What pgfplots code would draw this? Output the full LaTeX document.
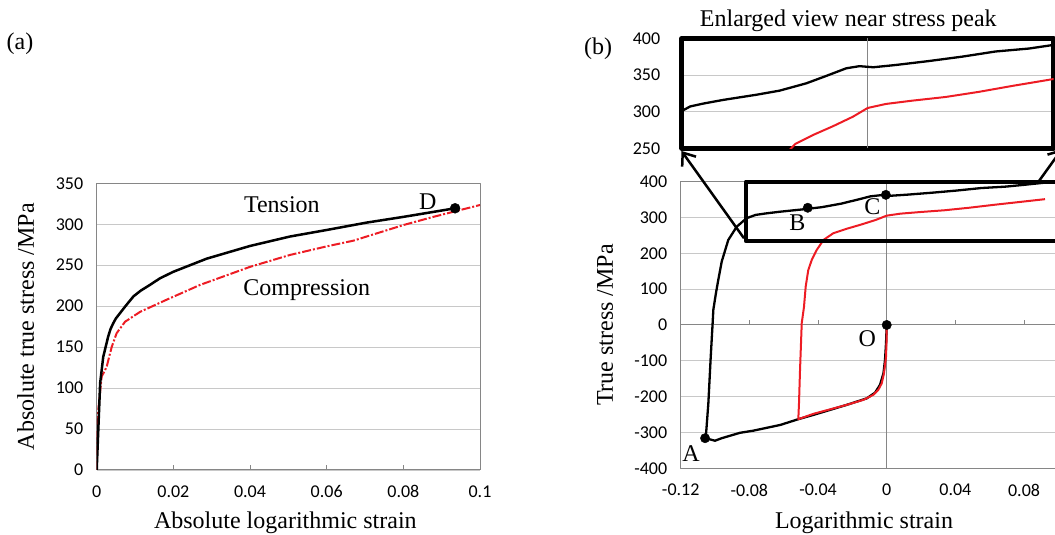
\documentclass[border=0pt]{standalone}
\usepackage{fontspec}
\setmainfont{Liberation Serif}
\newfontfamily\carlito{Carlito}
\usepackage{pgfplots}
\usepackage{pgfplotstable}
\pgfplotsset{compat=1.18}
\usetikzlibrary{arrows.meta}

\definecolor{gridgray}{RGB}{200,200,200}
\definecolor{axgray}{RGB}{134,134,134}
\definecolor{curvered}{RGB}{237,28,36}

% (a) absolute curves
\pgfplotstableread{
x y
0 0
0.0009 106
0.0017 138
0.003 163
0.0036 172
0.0043 179
0.005 185
0.006 191
0.0075 200
0.0096 212
0.0115 219
0.0139 226
0.0165 234
0.02 242
0.0287 258
0.04 273.5
0.0504 285
0.06 293
0.0704 302
0.08 309
0.0935 319.5
}\tension
\pgfplotstableread{
x y
0 0
0.0004 73
0.0013 114
0.0026 126
0.0039 150
0.0052 167
0.0074 181
0.0113 193
0.0183 208
0.027 226
0.04 248
0.0504 262.5
0.06 273
0.067 280
0.0704 285
0.08 299
0.0878 309
0.1 323.5
}\compression

% (b) cyclic curves
\pgfplotstableread{
x y
0 0
-0.0004 -51
-0.001 -98
-0.0019 -135
-0.0039 -167
-0.0068 -189
-0.0117 -205
-0.0233 -223
-0.0427 -251
-0.0515 -263
-0.062 -279
-0.0777 -295
-0.0855 -301
-0.0961 -316
-0.1 -323
-0.1058 -316
-0.1052 -302
-0.1039 -219
-0.1025 -88
-0.1014 5
-0.101 42
-0.0995 88
-0.0981 126
-0.0961 177
-0.0923 237
-0.0874 274
-0.0816 298
-0.0764 307
-0.0707 311
-0.0621 316
-0.0479 323
-0.0379 328.6
-0.0264 338.6
-0.0179 348.6
-0.0093 359
-0.0036 362
0.0024 360.5
0.0121 363.6
0.0264 369
0.0407 375
0.055 382
0.0693 386
0.08 391
0.098 400
}\blackcyc
\pgfplotstableread{
x y
0 0
0 -33
-0.0004 -88
-0.0016 -135
-0.0029 -163
-0.0049 -181
-0.0078 -195
-0.0136 -209
-0.0233 -223
-0.0427 -248
-0.0515 -263
-0.0511 -219
-0.0505 -126
-0.0495 5
-0.0482 50
-0.0472 107
-0.0457 153
-0.0437 181
-0.0408 209
-0.0369 237
-0.0311 256
-0.0236 268
-0.015 280
-0.0064 293
0 305
0.0079 310.5
0.0193 315
0.0336 320
0.0479 327
0.0621 335
0.08 344.5
0.0922 351
}\redcyc

\tikzset{lbl/.style={font=\fontsize{24}{26}\selectfont, inner sep=0pt}}
\pgfplotsset{
  excel/.style={
    scale only axis,
    axis line style={axgray, line width=1pt},
    tick label style={font=\carlito\fontsize{18}{20}\selectfont},
    /pgf/number format/assume math mode=true,
    ymajorgrids, grid style={gridgray, line width=0.9pt},
    scaled ticks=false,
    xticklabel style={/pgf/number format/fixed, /pgf/number format/precision=2, yshift=-12pt},
    yticklabel style={xshift=-10pt},
    ytick style={draw=none},
    line join=round,
  },
}

\begin{document}
\begin{tikzpicture}[x=1pt,y=1pt]

% ---------- (a) ----------
\begin{axis}[excel,
  at={(96.7pt,65pt)}, anchor=south west,
  width=383.3pt, height=286.7pt,
  xmin=0, xmax=0.1, ymin=0, ymax=350,
  xtick={0,0.02,...,0.1}, ytick={0,50,...,350},
  xtick pos=bottom, xtick align=inside,
  xtick style={axgray, line width=0.9pt}, major tick length=5pt,
  xlabel={Absolute logarithmic strain},
  ylabel={Absolute true stress /MPa},
  xlabel style={font=\fontsize{24}{26}\selectfont, inner sep=0pt, at={([yshift=-53pt,xshift=-3pt]axis description cs:0.5,0)}, anchor=center},
  ylabel style={font=\fontsize{24}{26}\selectfont, inner sep=0pt, at={([xshift=-71pt]axis description cs:0,0.5)}, anchor=center},
]
\addplot[curvered, line width=2pt, dash pattern=on 9pt off 2pt on 2pt off 2pt] table {\compression};
\addplot[black, line width=2.5pt] table {\tension};
\addplot[only marks, mark=*, mark size=5pt, black] coordinates {(0.0935,319.5)};
\node[lbl] at (axis cs:0.0483,323.5) {Tension};
\node[lbl] at (axis cs:0.0548,219.8) {Compression};
\node[lbl] at (axis cs:0.0864,327.6) {D};
\end{axis}

% ---------- (b) main ----------
\begin{axis}[excel,
  at={(680.7pt,66.7pt)}, anchor=south west,
  width=377.7pt, height=286.7pt,
  xmin=-0.12, xmax=0.1, ymin=-400, ymax=400,
  xtick={-0.12,-0.08,...,0.081}, ytick={-400,-300,...,400},
  xtick style={draw=none},
  clip=false,
  xlabel={Logarithmic strain},
  ylabel={True stress /MPa},
  xlabel style={font=\fontsize{24}{26}\selectfont, inner sep=0pt, at={([yshift=-54.7pt,xshift=-5.5pt]axis description cs:0.5,0)}, anchor=center},
  ylabel style={font=\fontsize{24}{26}\selectfont, inner sep=0pt, at={([xshift=-75.7pt]axis description cs:0,0.5)}, anchor=center},
]
\draw[axgray, line width=1pt] (axis cs:0,-400) -- (axis cs:0,400);
\draw[axgray, line width=1pt] (axis cs:-0.12,0) -- (axis cs:0.1,0);
\pgfplotsinvokeforeach{-0.08,-0.04,0.04,0.08}{
  \draw[axgray, line width=0.9pt] (axis cs:#1,0) -- ([yshift=5pt]axis cs:#1,0);
}
\addplot[black, line width=2.3pt] table {\blackcyc};
\addplot[curvered, line width=2pt] table {\redcyc};
\addplot[only marks, mark=*, mark size=4.7pt, black] coordinates {(0,0) (-0.1058,-316) (-0.046,327) (-0.0005,363)};
\draw[black, line width=3.8pt] (axis cs:-0.0821,233.5) rectangle (axis cs:0.115,400);
\node[lbl] at (axis cs:-0.114,-358) {A};
\node[lbl] at (axis cs:-0.0521,284) {B};
\node[lbl] at (axis cs:-0.0084,330) {C};
\node[lbl] at (axis cs:-0.0113,-37) {O};
\end{axis}

% ---------- (b) inset ----------
\begin{axis}[excel,
  at={(681.7pt,386.7pt)}, anchor=south west,
  width=372pt, height=110pt,
  xmin=-0.08, xmax=0.08, ymin=250, ymax=400,
  xtick=\empty, ytick={250,300,...,400},
  axis line style={black, line width=4.8pt},
  yticklabel style={xshift=-8pt},
]
\draw[axgray, line width=1pt] (axis cs:0,250) -- (axis cs:0,400);
\addplot[black, line width=2.3pt] table {\blackcyc};
\addplot[curvered, line width=2pt] table {\redcyc};
\end{axis}

\node[lbl] at (848.3,514.3) {Enlarged view near stress peak};
\node[lbl] at (20,491) {(a)};
\node[lbl] at (598,486) {(b)};

\draw[black, line width=2.5pt, -{Straight Barb[length=11pt, width=17pt, line width=2.5pt]}]
  (744,296.7) -- (681.5,384);
\draw[black, line width=2.5pt, -{Straight Barb[length=11pt, width=17pt, line width=2.5pt]}]
  (1039,354) -- (1062,386);

\pgfresetboundingbox
\useasboundingbox (0,0) rectangle (1055,535);
\end{tikzpicture}
\end{document}
